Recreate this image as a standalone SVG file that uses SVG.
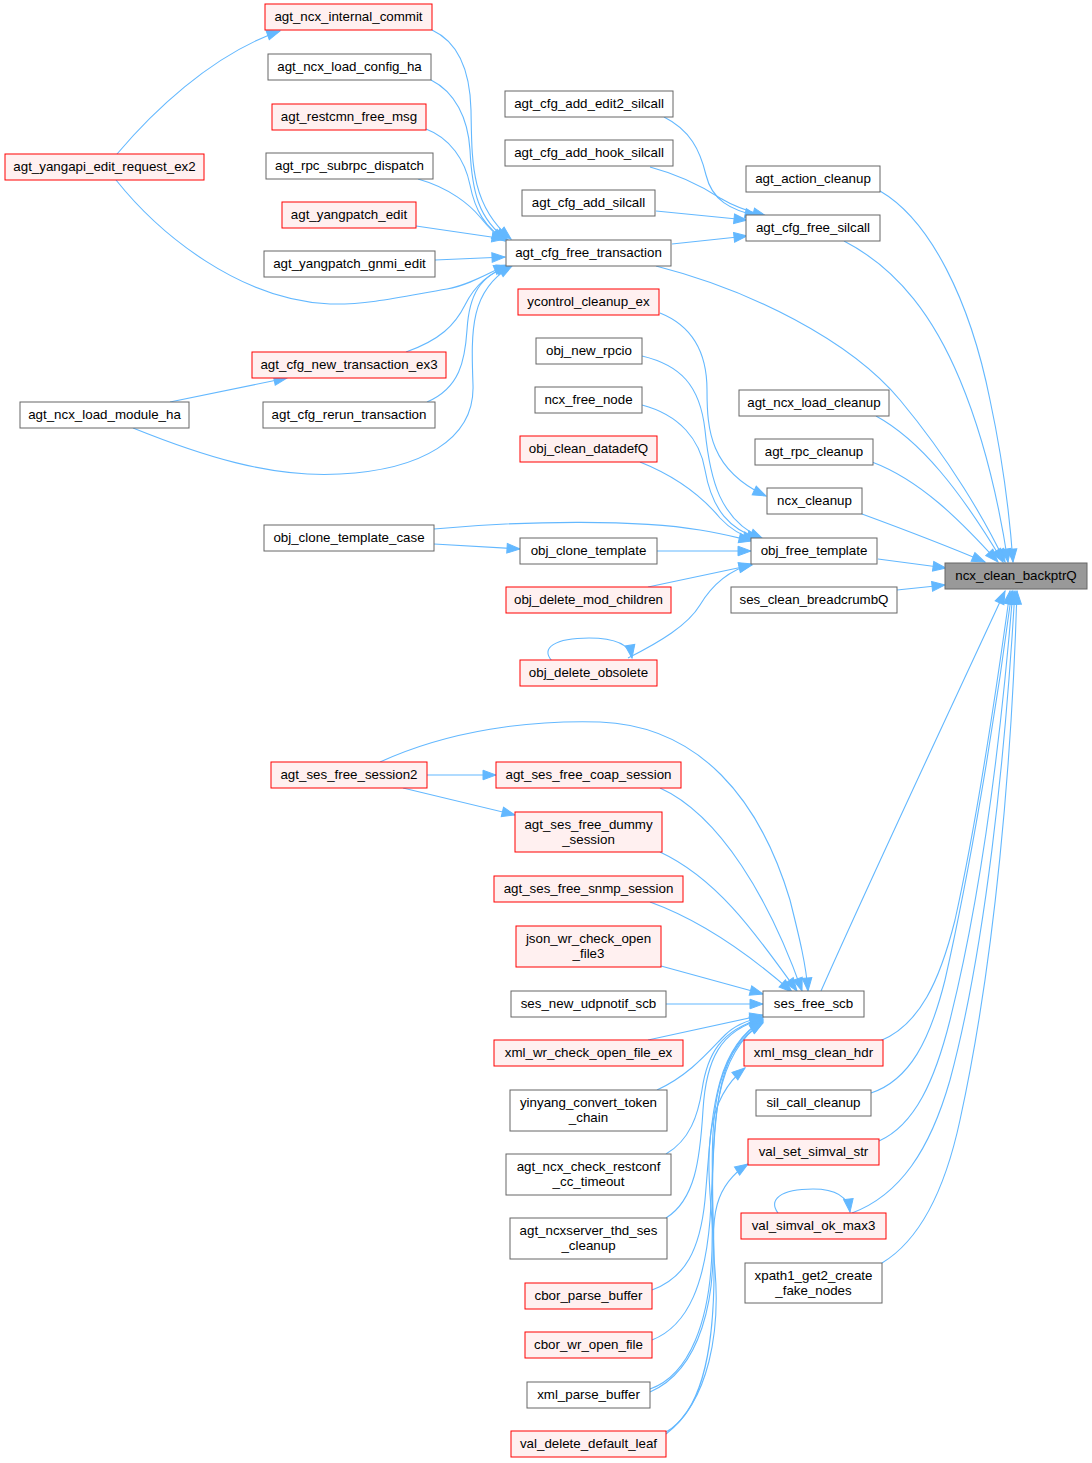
<svg xmlns="http://www.w3.org/2000/svg" width="1092" height="1463" viewBox="0 0 1092 1463">
<style>
.g rect{fill:#ffffff;stroke:#666666;stroke-width:1}
.r rect{fill:#fff0f0;stroke:#ff0000;stroke-width:1}
.t rect{fill:#999999;stroke:#666666;stroke-width:1}
text{font-family:"Liberation Sans",Arial,Helvetica,sans-serif;font-size:13.33px;fill:#000000;text-anchor:middle}
#edges path{fill:none;stroke:#63b8ff;stroke-width:1.1;marker-end:url(#a)}
</style>
<defs>
<marker id="a" markerUnits="userSpaceOnUse" markerWidth="15" markerHeight="11" refX="13" refY="5" orient="auto" overflow="visible">
<path d="M0,0.2 L13,5 L0,9.8 z" fill="#63b8ff" stroke="#63b8ff" stroke-width="1"/>
</marker>
</defs>
<rect x="0" y="0" width="1092" height="1463" fill="#ffffff"/>
<g id="edges">
<path d="M432,30 C458,42 470,70 471,110 C472,160 470,205 511,239"/>
<path d="M431,80 C455,92 468,118 470,150 C472,190 478,220 508,240"/>
<path d="M426,129 C450,138 465,160 470,185 C475,210 485,228 506,240"/>
<path d="M418,179 C450,188 470,205 480,217 C488,227 495,235 505,241"/>
<path d="M416,226 L505,239"/>
<path d="M435,260 L505,257"/>
<path d="M116,180 C160,235 240,300 330,304 C370,305 410,295 447,289 C470,285 490,272 507,265"/>
<path d="M117,154 C150,115 210,55 280,31"/>
<path d="M406,352 C440,340 455,325 465,305 C475,285 490,272 510,266"/>
<path d="M170,402 L287,378"/>
<path d="M133,428 C200,455 270,478 340,474 C420,470 475,440 473,385 C471,330 470,290 512,266"/>
<path d="M427,402 C460,388 465,360 467,330 C469,295 480,275 510,266"/>
<path d="M664,117 C690,130 700,150 706,175 C712,200 730,210 758,216"/>
<path d="M650,167 C680,175 700,185 720,198 C735,207 750,212 766,216"/>
<path d="M656,211 L747,220"/>
<path d="M672,244 L747,236"/>
<path d="M656,266 C750,290 850,340 900,400 C950,460 985,520 1005,562"/>
<path d="M880,191 C930,220 970,300 990,400 C1005,470 1010,520 1013,562"/>
<path d="M844,241 C900,270 935,320 960,380 C985,440 1000,510 1008,562"/>
<path d="M660,313 C690,325 707,350 707,390 C707,430 710,470 766,496"/>
<path d="M642,356 C680,365 700,385 705,430 C710,480 720,520 763,539"/>
<path d="M642,405 C680,415 700,440 705,470 C712,510 730,530 760,539"/>
<path d="M640,462 C680,478 705,500 720,518 C733,532 745,537 756,540"/>
<path d="M434,529 C530,520 640,520 700,530 C720,533 735,537 752,541"/>
<path d="M434,544 L520,549"/>
<path d="M657,551 L751,551"/>
<path d="M648,587 L752,565"/>
<path d="M628,658 C660,642 688,625 700,605 C712,585 730,570 752,564"/>
<path d="M552,661 C540,648 555,638 589,638 C615,638 630,645 632,658"/>
<path d="M876,416 C920,440 960,490 1003,562"/>
<path d="M872,462 C920,480 960,520 998,562"/>
<path d="M862,514 C900,528 945,545 985,562"/>
<path d="M878,559 L946,568"/>
<path d="M897,590 L945,585"/>
<path d="M821,991 C870,880 950,710 1005,591"/>
<path d="M880,1041 C920,1025 940,980 955,920 C975,830 995,700 1010,591"/>
<path d="M871,1093 C910,1080 930,1040 945,980 C970,870 995,720 1012,591"/>
<path d="M879,1141 C915,1125 935,1080 950,1020 C980,900 1000,750 1013,591"/>
<path d="M852,1213 C900,1195 930,1150 950,1080 C985,950 1005,760 1015,591"/>
<path d="M882,1263 C920,1240 945,1190 960,1120 C995,960 1012,760 1017,591"/>
<path d="M778,1213 C768,1200 780,1189 813,1189 C835,1189 848,1196 850,1212"/>
<path d="M427,775 L496,775"/>
<path d="M403,788 L515,815"/>
<path d="M380,762 C450,730 530,720 600,722 C700,726 760,800 790,900 C800,940 806,965 808,991"/>
<path d="M660,788 C720,815 770,900 802,991"/>
<path d="M660,852 C720,880 760,940 797,991"/>
<path d="M650,902 C700,920 750,955 792,992"/>
<path d="M661,966 L763,994"/>
<path d="M666,1004 L763,1004"/>
<path d="M648,1040 L763,1015"/>
<path d="M657,1090 C690,1075 710,1050 725,1035 C735,1025 748,1020 763,1017"/>
<path d="M666,1154 C690,1140 698,1115 702,1090 C707,1055 720,1030 763,1018"/>
<path d="M666,1218 C695,1200 700,1160 703,1110 C706,1060 720,1030 763,1019"/>
<path d="M652,1290 C685,1278 700,1250 705,1200 C712,1120 712,1050 763,1020"/>
<path d="M652,1340 C690,1325 705,1280 710,1220 C716,1130 710,1050 763,1021"/>
<path d="M650,1389 C690,1375 710,1320 712,1250 C714,1150 705,1060 763,1022"/>
<path d="M650,1392 C700,1370 718,1300 712,1220 C706,1150 705,1100 745,1068"/>
<path d="M666,1432 C705,1410 715,1340 714,1260 C713,1150 700,1060 763,1023"/>
<path d="M666,1434 C710,1400 720,1330 715,1270 C710,1215 715,1185 748,1164"/>
</g>
<g id="n1" class="r"><rect x="265" y="4" width="167" height="26"/><text x="348.5" y="20.8">agt_ncx_internal_commit</text></g>
<g id="n2" class="g"><rect x="268" y="54" width="163" height="26"/><text x="349.5" y="70.8">agt_ncx_load_config_ha</text></g>
<g id="n3" class="r"><rect x="272" y="104" width="154" height="26"/><text x="349" y="120.8">agt_restcmn_free_msg</text></g>
<g id="n4" class="g"><rect x="266" y="153" width="167" height="26"/><text x="349.5" y="169.8">agt_rpc_subrpc_dispatch</text></g>
<g id="n5" class="r"><rect x="282" y="202" width="134" height="26"/><text x="349" y="218.8">agt_yangpatch_edit</text></g>
<g id="n6" class="g"><rect x="264" y="251" width="171" height="26"/><text x="349.5" y="267.8">agt_yangpatch_gnmi_edit</text></g>
<g id="n7" class="r"><rect x="252" y="352" width="194" height="26"/><text x="349" y="368.8">agt_cfg_new_transaction_ex3</text></g>
<g id="n8" class="g"><rect x="263" y="402" width="172" height="26"/><text x="349" y="418.8">agt_cfg_rerun_transaction</text></g>
<g id="n9" class="r"><rect x="5" y="154" width="199" height="26"/><text x="104.5" y="170.8">agt_yangapi_edit_request_ex2</text></g>
<g id="n10" class="g"><rect x="20" y="402" width="169" height="26"/><text x="104.5" y="418.8">agt_ncx_load_module_ha</text></g>
<g id="n11" class="g"><rect x="505" y="91" width="168" height="26"/><text x="589" y="107.8">agt_cfg_add_edit2_silcall</text></g>
<g id="n12" class="g"><rect x="505" y="140" width="168" height="26"/><text x="589" y="156.8">agt_cfg_add_hook_silcall</text></g>
<g id="n13" class="g"><rect x="522" y="190" width="133" height="26"/><text x="588.5" y="206.8">agt_cfg_add_silcall</text></g>
<g id="n14" class="g"><rect x="506" y="240" width="165" height="26"/><text x="588.5" y="256.8">agt_cfg_free_transaction</text></g>
<g id="n15" class="r"><rect x="518" y="289" width="141" height="26"/><text x="588.5" y="305.8">ycontrol_cleanup_ex</text></g>
<g id="n16" class="g"><rect x="536" y="338" width="106" height="26"/><text x="589" y="354.8">obj_new_rpcio</text></g>
<g id="n17" class="g"><rect x="535" y="387" width="107" height="26"/><text x="588.5" y="403.8">ncx_free_node</text></g>
<g id="n18" class="r"><rect x="520" y="436" width="137" height="26"/><text x="588.5" y="452.8">obj_clean_datadefQ</text></g>
<g id="n19" class="g"><rect x="264" y="525" width="170" height="26"/><text x="349" y="541.8">obj_clone_template_case</text></g>
<g id="n20" class="g"><rect x="520" y="538" width="137" height="26"/><text x="588.5" y="554.8">obj_clone_template</text></g>
<g id="n21" class="r"><rect x="506" y="587" width="165" height="26"/><text x="588.5" y="603.8">obj_delete_mod_children</text></g>
<g id="n22" class="r"><rect x="520" y="660" width="137" height="26"/><text x="588.5" y="676.8">obj_delete_obsolete</text></g>
<g id="n23" class="g"><rect x="746" y="166" width="134" height="26"/><text x="813" y="182.8">agt_action_cleanup</text></g>
<g id="n24" class="g"><rect x="746" y="215" width="134" height="26"/><text x="813" y="231.8">agt_cfg_free_silcall</text></g>
<g id="n25" class="g"><rect x="739" y="390" width="150" height="26"/><text x="814" y="406.8">agt_ncx_load_cleanup</text></g>
<g id="n26" class="g"><rect x="755" y="439" width="118" height="26"/><text x="814" y="455.8">agt_rpc_cleanup</text></g>
<g id="n27" class="g"><rect x="767" y="488" width="95" height="26"/><text x="814.5" y="504.8">ncx_cleanup</text></g>
<g id="n28" class="g"><rect x="751" y="538" width="126" height="26"/><text x="814" y="554.8">obj_free_template</text></g>
<g id="n29" class="g"><rect x="731" y="587" width="166" height="26"/><text x="814" y="603.8">ses_clean_breadcrumbQ</text></g>
<g id="n30" class="t"><rect x="945" y="563" width="142" height="26"/><text x="1016" y="579.8">ncx_clean_backptrQ</text></g>
<g id="n31" class="r"><rect x="271" y="762" width="156" height="26"/><text x="349" y="778.8">agt_ses_free_session2</text></g>
<g id="n32" class="r"><rect x="496" y="762" width="185" height="26"/><text x="588.5" y="778.8">agt_ses_free_coap_session</text></g>
<g id="n33" class="r"><rect x="515" y="812" width="147" height="40"/><text x="588.5" y="828.5">agt_ses_free_dummy</text><text x="588.5" y="843.5">_session</text></g>
<g id="n34" class="r"><rect x="494" y="876" width="189" height="26"/><text x="588.5" y="892.8">agt_ses_free_snmp_session</text></g>
<g id="n35" class="r"><rect x="516" y="926" width="145" height="41"/><text x="588.5" y="942.5">json_wr_check_open</text><text x="588.5" y="957.5">_file3</text></g>
<g id="n36" class="g"><rect x="511" y="991" width="155" height="26"/><text x="588.5" y="1007.8">ses_new_udpnotif_scb</text></g>
<g id="n37" class="r"><rect x="494" y="1040" width="189" height="26"/><text x="588.5" y="1056.8">xml_wr_check_open_file_ex</text></g>
<g id="n38" class="g"><rect x="510" y="1090" width="157" height="41"/><text x="588.5" y="1106.5">yinyang_convert_token</text><text x="588.5" y="1121.5">_chain</text></g>
<g id="n39" class="g"><rect x="506" y="1154" width="165" height="41"/><text x="588.5" y="1170.5">agt_ncx_check_restconf</text><text x="588.5" y="1185.5">_cc_timeout</text></g>
<g id="n40" class="g"><rect x="510" y="1218" width="157" height="41"/><text x="588.5" y="1234.5">agt_ncxserver_thd_ses</text><text x="588.5" y="1249.5">_cleanup</text></g>
<g id="n41" class="r"><rect x="525" y="1283" width="127" height="26"/><text x="588.5" y="1299.8">cbor_parse_buffer</text></g>
<g id="n42" class="r"><rect x="525" y="1332" width="127" height="26"/><text x="588.5" y="1348.8">cbor_wr_open_file</text></g>
<g id="n43" class="g"><rect x="527" y="1382" width="123" height="26"/><text x="588.5" y="1398.8">xml_parse_buffer</text></g>
<g id="n44" class="r"><rect x="511" y="1431" width="155" height="26"/><text x="588.5" y="1447.8">val_delete_default_leaf</text></g>
<g id="n45" class="g"><rect x="763" y="991" width="101" height="26"/><text x="813.5" y="1007.8">ses_free_scb</text></g>
<g id="n46" class="r"><rect x="744" y="1040" width="139" height="26"/><text x="813.5" y="1056.8">xml_msg_clean_hdr</text></g>
<g id="n47" class="g"><rect x="756" y="1090" width="115" height="26"/><text x="813.5" y="1106.8">sil_call_cleanup</text></g>
<g id="n48" class="r"><rect x="748" y="1139" width="131" height="26"/><text x="813.5" y="1155.8">val_set_simval_str</text></g>
<g id="n49" class="r"><rect x="741" y="1213" width="145" height="26"/><text x="813.5" y="1229.8">val_simval_ok_max3</text></g>
<g id="n50" class="g"><rect x="745" y="1263" width="137" height="40"/><text x="813.5" y="1279.5">xpath1_get2_create</text><text x="813.5" y="1294.5">_fake_nodes</text></g>
</svg>
